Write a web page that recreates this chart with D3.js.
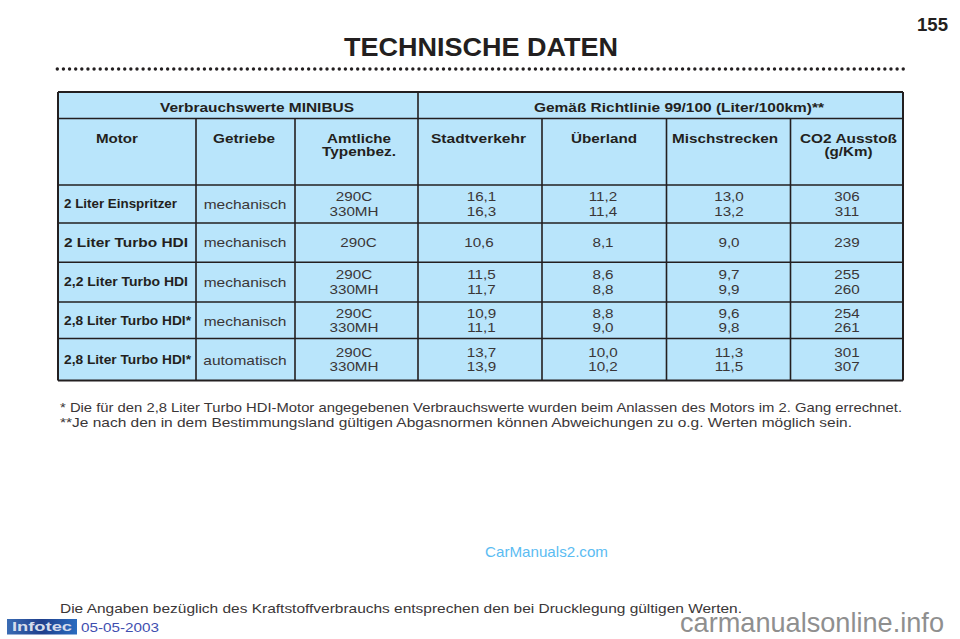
<!DOCTYPE html>
<html><head><meta charset="utf-8">
<script src="https://cdn.jsdelivr.net/npm/d3@7"></script>
<style>html,body{margin:0;background:#fff}svg{display:block}text{font-family:"Liberation Sans",Arial,sans-serif}</style>
</head><body><svg id="c" width="960" height="639"></svg>
<script>
// ---- data ----
const groupHeaders = ["Verbrauchswerte MINIBUS", "Gemäß Richtlinie 99/100 (Liter/100km)**"];
const columnHeaders = [["Motor"],["Getriebe"],["Amtliche","Typenbez."],["Stadtverkehr"],["Überland"],["Mischstrecken"],["CO2 Ausstoß","(g/Km)"]];
const motors = ["2 Liter Einspritzer","2 Liter Turbo HDI","2,2 Liter Turbo HDI","2,8 Liter Turbo HDI*","2,8 Liter Turbo HDI*"];
const gearboxes = ["mechanisch","mechanisch","mechanisch","mechanisch","automatisch"];
const typeCodes = [["290C","330MH"],["290C"],["290C","330MH"],["290C","330MH"],["290C","330MH"]];
const stadtverkehr = [["16,1","16,3"],["10,6"],["11,5","11,7"],["10,9","11,1"],["13,7","13,9"]];
const ueberland = [["11,2","11,4"],["8,1"],["8,6","8,8"],["8,8","9,0"],["10,0","10,2"]];
const mischstrecken = [["13,0","13,2"],["9,0"],["9,7","9,9"],["9,6","9,8"],["11,3","11,5"]];
const co2 = [["306","311"],["239"],["255","260"],["254","261"],["301","307"]];
const title = "TECHNISCHE DATEN", pageNo = "155";
const notes = ["* Die für den 2,8 Liter Turbo HDI-Motor angegebenen Verbrauchswerte wurden beim Anlassen des Motors im 2. Gang errechnet.",
 "**Je nach den in dem Bestimmungsland gültigen Abgasnormen können Abweichungen zu o.g. Werten möglich sein."];
const footer = "Die Angaben bezüglich des Kraftstoffverbrauchs entsprechen den bei Drucklegung gültigen Werten.";
const logo = "Infotec", dateText = "05-05-2003", mark1 = "CarManuals2.com", mark2 = "carmanualsonline.info";

// ---- layout ----
const colEdges = [58,196,295,418,542,666.5,790.5,903];
const rowEdges = [92,118.5,185,223,262.3,302,338.5,380.5];
const xCol = d3.scaleOrdinal().domain(d3.range(8)).range(colEdges);
const yRow = d3.scaleOrdinal().domain(d3.range(8)).range(rowEdges);
const headCx = [117,244,359,478.5,604,725,848.5];
const headW = [[42],[62],[64,74],[95],[66],[106],[97,48]];
const bodyCx = [0,245,354,481.5,603,729,847];
const singleCx = [0,245,358.5,479,603,729,847];
const motorSize = [12,13.6,12.4,12,12];
const motorW = [113,124,124,127,127];
const motorDy = [0,0,0,1.2,0.7];
const ink="#231f20", soft="#3a3637", fill="#b9e5fb";
const svg = d3.select("#c");
function text(g,x,y,s,size,opt={}){
  const t=g.append("text").attr("x",x).attr("y",y).attr("font-size",size)
   .attr("fill",opt.fill||ink).attr("font-weight",opt.bold?"bold":"normal")
   .attr("text-anchor",opt.anchor||"middle").attr("dominant-baseline","central").text(s);
  const w=opt.width||t.node().getComputedTextLength()*(opt.k||1);
  t.attr("textLength",w).attr("lengthAdjust","spacingAndGlyphs");
  return t;
}
// background + grid
svg.append("rect").attr("x",xCol(0)).attr("y",yRow(0)).attr("width",xCol(7)-xCol(0)).attr("height",yRow(7)-yRow(0)).attr("fill",fill);
const grid=svg.append("g").attr("stroke",ink).attr("fill","none");
d3.range(8).forEach(i=>grid.append("line").attr("x1",xCol(0)).attr("x2",xCol(7)).attr("y1",yRow(i)).attr("y2",yRow(i)).attr("stroke-width",i==0||i==7?2:1.6));
d3.range(8).forEach(i=>grid.append("line").attr("x1",xCol(i)).attr("x2",xCol(i)).attr("y1",(i==0||i==3||i==7)?yRow(0):yRow(1)).attr("y2",yRow(7)).attr("stroke-width",i==0||i==7?2:1.6));

// dotted rule
const dots=d3.range(57.3,905,6.13);
svg.append("g").selectAll("circle").data(dots).join("circle").attr("cx",d=>d).attr("cy",69).attr("r",1.7).attr("fill",ink);

// footer logo background (below text)
const defs=svg.append("defs");
const lg=defs.append("linearGradient").attr("id","lg").attr("x1",0).attr("x2",1).attr("y1",0).attr("y2",0);
lg.append("stop").attr("offset",0).attr("stop-color","#3a6cb4");
lg.append("stop").attr("offset",.5).attr("stop-color","#1f3f8c");
lg.append("stop").attr("offset",1).attr("stop-color","#2a6cc0");
svg.append("rect").attr("x",7).attr("y",619).attr("width",70).attr("height",15.5).attr("fill","url(#lg)");

const g=svg.append("g");
text(g,481,46.5,title,25,{bold:true,width:274});
text(g,932.5,25,pageNo,17.5,{bold:true,width:31});

text(g,257,107.5,groupHeaders[0],13.2,{bold:true,width:194});
text(g,679,107.5,groupHeaders[1],13.2,{bold:true,width:290});
columnHeaders.forEach((ls,i)=>ls.forEach((l,j)=>text(g,headCx[i],138+j*13.2,l,13.6,{bold:true,width:headW[i][j]})));
motors.forEach((m,r)=>{
  const cy=(yRow(r+2)+yRow(r+3))/2+motorDy[r];
  text(g,64,cy,m,motorSize[r],{bold:true,anchor:"start",width:motorW[r]});
  text(g,bodyCx[1],cy,gearboxes[r],13,{k:1.19,fill:soft});
});
[typeCodes,stadtverkehr,ueberland,mischstrecken,co2].forEach((col,ci)=>{
  col.forEach((ls,r)=>{
    const cy=(yRow(r+2)+yRow(r+3))/2;
    ls.forEach((s,j)=>{
      const y=ls.length==1?cy:cy-7.2+j*14.4;
      text(g,ls.length==1?singleCx[ci+2]:bodyCx[ci+2],y,s,13,{k:1.17,fill:soft});
    });
  });
});
text(g,60,407.5,notes[0],12.4,{anchor:"start",width:842,fill:soft});
text(g,60,423,notes[1],12.4,{anchor:"start",width:792,fill:soft});
text(g,60,609,footer,12.4,{anchor:"start",width:682,fill:soft});

text(g,42,626.5,logo,12,{bold:true,fill:"#d5dcec",width:60});
text(g,81,627.5,dateText,13.5,{fill:"#3f4fb0",anchor:"start",width:78});
text(g,485,551,mark1,15,{fill:"#5bbcf2",anchor:"start",width:123});
text(g,680,622,mark2,28.5,{fill:"#8f8f8f",anchor:"start",width:264});
</script></body></html>
